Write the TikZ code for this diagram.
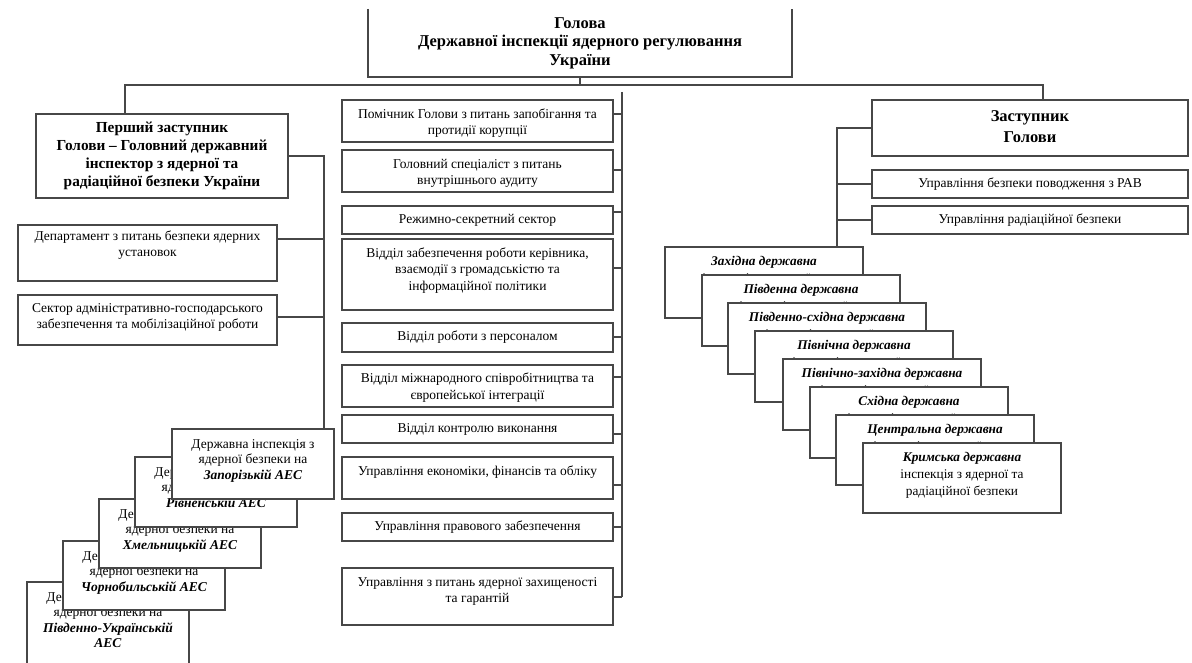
\documentclass[tikz,border=0pt]{standalone}
\usepackage{fontspec}
\setmainfont{Liberation Serif}
\usetikzlibrary{calc}
\tikzset{
  ob/.style={draw=black!72, line width=1.2pt, fill=white, inner sep=0pt, outer sep=0pt},
  con/.style={draw=black!72, line width=1.2pt}
}
\newcommand\fr{\fontsize{13.5}{16.5}\selectfont}
\newcommand\fdep{\fontsize{13.5}{15.5}\selectfont}
\newcommand\fb{\fontsize{15.3}{17.7}\selectfont\bfseries}
\newcommand\fbh{\fontsize{16.5}{18.5}\selectfont\bfseries}
\newcommand\fbz{\fontsize{16.5}{21}\selectfont\bfseries}
\newcommand\freg{\fontsize{13.3}{17}\selectfont}
\newcommand\bi[1]{\textbf{\textit{#1}}}
% name, x, y, w, h, inner pos, top pad, font, text
\newcommand\obox[9]{\node[ob, anchor=north west, minimum width=#4pt, minimum height=#5pt] (#1) at (#2,#3)
  {\parbox[c][#5pt][#6]{#4pt}{#8\centering\vspace*{#7pt}\strut#9\strut\par}};}
\begin{document}
\begin{tikzpicture}[x=1pt,y=-1pt]
\useasboundingbox (0,0) rectangle (1192,663);
\clip (0,0) rectangle (1192,663);

% head
\node[inner sep=0pt, outer sep=0pt, anchor=north west, minimum width=424pt, minimum height=68pt] (head) at (368,9)
  {\parbox[c][68pt][c]{424pt}{\fbh\centering\strut Голова\\Державної інспекції ядерного регулювання\\України\strut\par}};
\draw[con] (head.north west) -- (head.south west) -- (head.south east) -- (head.north east);

% first deputy
\obox{first}{36}{114}{252}{84}{c}{0}{\fb}{Перший заступник\\Голови – Головний державний\\інспектор з ядерної та\\радіаційної безпеки України}
\obox{dept}{18}{225}{259}{56}{t}{5}{\fdep}{Департамент з питань безпеки ядерних\\установок}
\obox{sect}{18}{295}{259}{50}{t}{7}{\fdep}{Сектор адміністративно-господарського\\забезпечення та мобілізаційної роботи}

% NPP inspections
\obox{pu}{27}{582}{162}{95}{t}{8.3}{\fdep}{Державна інспекція з\\ядерної безпеки на\\\bi{Південно-Українській}\\\bi{АЕС}}
\obox{chor}{63}{541}{162}{69}{t}{8.3}{\fdep}{Державна інспекція з\\ядерної безпеки на\\\bi{Чорнобильській АЕС}}
\obox{khm}{99}{499}{162}{69}{t}{8.3}{\fdep}{Державна інспекція з\\ядерної безпеки на\\\bi{Хмельницькій АЕС}}
\obox{riv}{135}{457}{162}{70}{t}{8.3}{\fdep}{Державна інспекція з\\ядерної безпеки на\\\bi{Рівненській АЕС}}
\obox{zap}{172}{429}{162}{70}{t}{8.3}{\fdep}{Державна інспекція з\\ядерної безпеки на\\\bi{Запорізькій АЕС}}

% centre column
\obox{c1}{342}{100}{271}{42}{t}{6.5}{\fr}{Помічник Голови з питань запобігання та\\протидії корупції}
\obox{c2}{342}{150}{271}{42}{t}{6.5}{\fr}{Головний спеціаліст з питань\\внутрішнього аудиту}
\obox{c3}{342}{206}{271}{28}{t}{6}{\fr}{Режимно-секретний сектор}
\obox{c4}{342}{239}{271}{71}{t}{6.5}{\fr}{Відділ забезпечення роботи керівника,\\взаємодії з громадськістю та\\інформаційної політики}
\obox{c5}{342}{323}{271}{29}{t}{6}{\fr}{Відділ роботи з персоналом}
\obox{c6}{342}{365}{271}{42}{t}{6}{\fr}{Відділ міжнародного співробітництва та\\європейської інтеграції}
\obox{c7}{342}{415}{271}{28}{t}{6}{\fr}{Відділ контролю виконання}
\obox{c8}{342}{457}{271}{42}{t}{6.5}{\fr}{Управління економіки, фінансів та обліку}
\obox{c9}{342}{513}{271}{28}{t}{6}{\fr}{Управління правового забезпечення}
\obox{c10}{342}{568}{271}{57}{t}{6.5}{\fr}{Управління з питань ядерної захищеності\\та гарантій}

% deputy
\obox{zast}{872}{100}{316}{56}{c}{0}{\fbz}{Заступник\\Голови}
\obox{rav}{872}{170}{316}{28}{c}{0}{\fr}{Управління безпеки поводження з РАВ}
\obox{rad}{872}{206}{316}{28}{c}{0}{\fr}{Управління радіаційної безпеки}

% regional inspections
\obox{zah}{665}{247}{198}{71}{t}{6.7}{\freg}{\bi{Західна державна}\\інспекція з ядерної та\\радіаційної безпеки}
\obox{pivd}{702}{275}{198}{71}{t}{6.7}{\freg}{\bi{Південна державна}\\інспекція з ядерної та\\радіаційної безпеки}
\obox{psh}{728}{303}{198}{71}{t}{6.7}{\freg}{\bi{Південно-східна державна}\\інспекція з ядерної та\\радіаційної безпеки}
\obox{pn}{755}{331}{198}{71}{t}{6.7}{\freg}{\bi{Північна державна}\\інспекція з ядерної та\\радіаційної безпеки}
\obox{pz}{783}{359}{198}{71}{t}{6.7}{\freg}{\bi{Північно-західна державна}\\інспекція з ядерної та\\радіаційної безпеки}
\obox{sh}{810}{387}{198}{71}{t}{6.7}{\freg}{\bi{Східна державна}\\інспекція з ядерної та\\радіаційної безпеки}
\obox{ts}{836}{415}{198}{70}{t}{6.7}{\freg}{\bi{Центральна державна}\\інспекція з ядерної та\\радіаційної безпеки}
\obox{kr}{863}{443}{198}{70}{t}{6.7}{\freg}{\bi{Кримська державна}\\інспекція з ядерної та\\радіаційної безпеки}

% connectors
\coordinate (busL) at (125,85);
\coordinate (busR) at (1043,85);
\draw[con] (head.south) -- (head.south |- busL);
\draw[con] (busL |- first.north) -- (busL) -- (busR) -- (busR |- zast.north);

\coordinate (vL) at (324,0);
\draw[con] (first.east) -- (first.east -| vL) -- (vL |- zap.north);
\path ($(dept.north east)+(0,14)$) coordinate (d1);
\path ($(sect.north east)+(0,22)$) coordinate (d2);
\draw[con] (d1) -- (d1 -| vL);
\draw[con] (d2) -- (d2 -| vL);

\coordinate (vCt) at (622,92);
\path ($(c10.north east)+(0,29)$) coordinate (vCb0);
\draw[con] (vCt) -- (vCt |- vCb0);
\foreach \n/\d in {c1/14,c2/20,c3/6,c4/29,c5/14,c6/12,c7/19,c8/28,c9/14,c10/29}{
  \path ($(\n.north east)+(0,\d)$) coordinate (tk);
  \draw[con] (tk) -- (tk -| vCt);
}

\coordinate (vR) at (837,0);
\draw[con] (zast.west) -- (zast.west -| vR) -- (vR |- zah.north);
\draw[con] (rav.west) -- (rav.west -| vR);
\draw[con] (rad.west) -- (rad.west -| vR);
\end{tikzpicture}
\end{document}
